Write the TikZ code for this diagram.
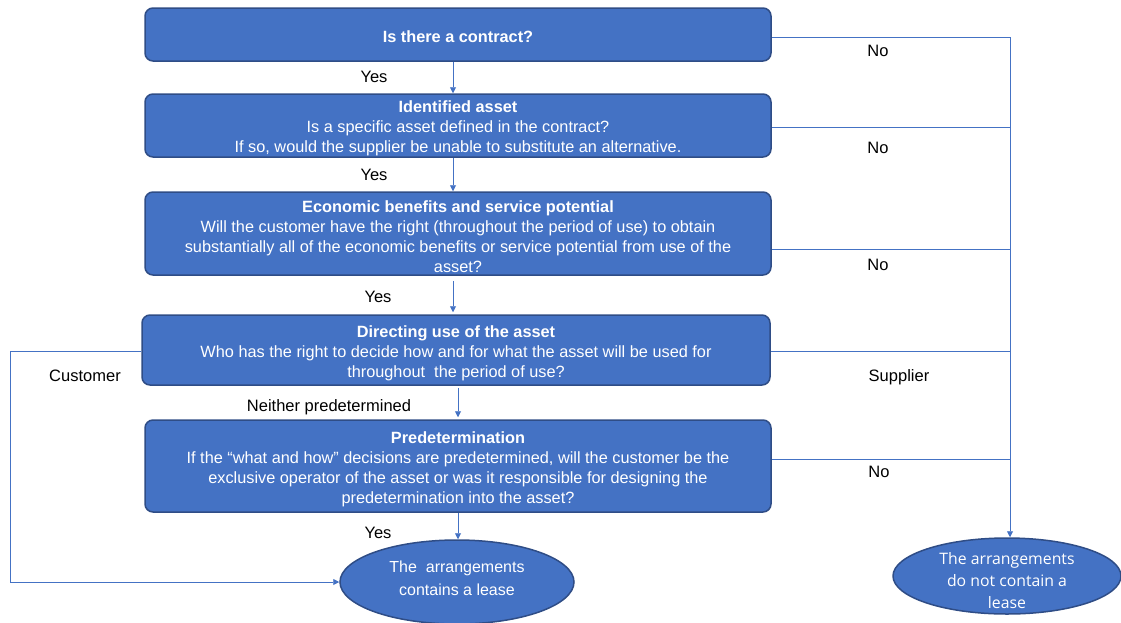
\documentclass[tikz,border=0pt]{standalone}
\usepackage{fontspec}
\setmainfont{Liberation Sans}
\newfontfamily\ovalfont{Open Sans}
\usetikzlibrary{shapes.geometric,arrows.meta,calc}
\definecolor{boxfill}{HTML}{4472C4}
\definecolor{boxedge}{HTML}{2F4D86}
\definecolor{linkblue}{HTML}{4472C4}
% extra room above the first line of a box
\newcommand\topgap[1]{\rule{0pt}{#1}}
\begin{document}
\begin{tikzpicture}[x=1pt,y=-1pt,
  qbox/.style={draw=boxedge, line width=1.5pt, fill=boxfill, rounded corners=8pt,
    text=white, align=center, minimum width=626pt, inner sep=0pt,
    font=\fontsize{16.3}{20}\selectfont},
  outcome/.style={ellipse, draw=boxedge, line width=1.5pt, fill=boxfill, inner sep=0pt},
  outtext/.style={text=white, align=center, inner sep=0pt},
  link/.style={draw=linkblue, line width=0.9pt},
  arrow/.style={link, -{Triangle[length=6pt,width=6pt]}},
  lbl/.style={font=\fontsize{16.5}{18}\selectfont, text=black, inner sep=0pt}]
\useasboundingbox (0,0) rectangle (1121,622);

% decision boxes
\node[qbox, minimum height=53pt] (b1) at (458,34.5) {\topgap{16pt}\textbf{Is there a contract?}};
\node[qbox, minimum height=63pt] (b2) at (458,125.5) {\topgap{18pt}\textbf{Identified asset}\\Is a specific asset defined in the contract?\\If so, would the supplier be unable to substitute an alternative.};
\node[qbox, minimum height=83pt] (b3) at (458,233.5) {\topgap{18pt}\textbf{Economic benefits and service potential}\\Will the customer have the right (throughout the period of use) to obtain\\substantially all of the economic benefits or service potential from use of the\\asset?};
\node[qbox, minimum width=628pt, minimum height=70pt] (b4) at (456,350) {\topgap{18pt}\textbf{Directing use of the asset}\\Who has the right to decide how and for what the asset will be used for\\throughout\ \ the period of use?};
\node[qbox, minimum height=92pt] (b5) at (458,466) {\topgap{18pt}\textbf{Predetermination}\\If the “what and how” decisions are predetermined, will the customer be the\\exclusive operator of the asset or was it responsible for designing the\\predetermination into the asset?};

% outcomes
\node[outcome, minimum width=234pt, minimum height=84pt] (e1) at (457,582) {};
\node[outtext, font=\fontsize{16}{22.5}\selectfont] (e1t) at (457,578.5) {The\ \ arrangements\\contains a lease};
\node[outcome, minimum width=228pt, minimum height=76pt] (e2) at (1007,576) {};
\node[outtext, font=\ovalfont\fontsize{15.8}{22}\selectfont] (e2t) at (1007,581) {The arrangements\\do not contain a\\lease};

% main chain
\draw[arrow] ($(b1.south)+(-5,0)$) -- ($(b2.north)+(-5,0)$);
\draw[arrow] ($(b2.south)+(-5,0)$) -- ($(b3.north)+(-5,0)$);
\draw[arrow] ($(b3.south)+(-5,5)$) -- ($(b4.north)+(-3,-2)$);
\draw[arrow] ($(b4.south)+(2,2)$) -- ($(b5.north)+(0,-2)$);
\draw[arrow] (b5.south) -- ($(e1.north)+(1,0)$);

% "No" / "Supplier" rail on the right
\coordinate (r1) at (1010,37);
\draw[link] ($(b1.east)+(0,2.5)$) -- (r1);
\draw[arrow] (r1) -- (r1 |- e2.north);
\draw[link] ($(b2.east)+(0,1.5)$) -- ($(b2.east -| r1)+(0,1.5)$);
\draw[link] ($(b3.east)+(0,15.5)$) -- ($(b3.east -| r1)+(0,15.5)$);
\draw[link] ($(b4.east)+(0,1)$) -- ($(b4.east -| r1)+(0,1)$);
\draw[link] ($(b5.east)+(0,-7)$) -- ($(b5.east -| r1)+(0,-7)$);

% "Customer" route on the left
\draw[arrow] ($(b4.west)+(0,1)$) -- ++(-131,0) |- (e1.west);

% branch labels
\node[lbl] (y1) at (374,77) {Yes};
\node[lbl] (y2) at (374,175) {Yes};
\node[lbl] (y3) at (378,297) {Yes};
\node[lbl] (np) at (329,407) {Neither predetermined};
\node[lbl] (y4) at (378,533) {Yes};
\node[lbl] (n1) at (878,51) {No};
\node[lbl] (n2) at (878,148) {No};
\node[lbl] (n3) at (878,265) {No};
\node[lbl] (sp) at (899,377) {Supplier};
\node[lbl] (n4) at (879,472) {No};
\node[lbl] (cu) at (85,376) {Customer};
\end{tikzpicture}
\end{document}
